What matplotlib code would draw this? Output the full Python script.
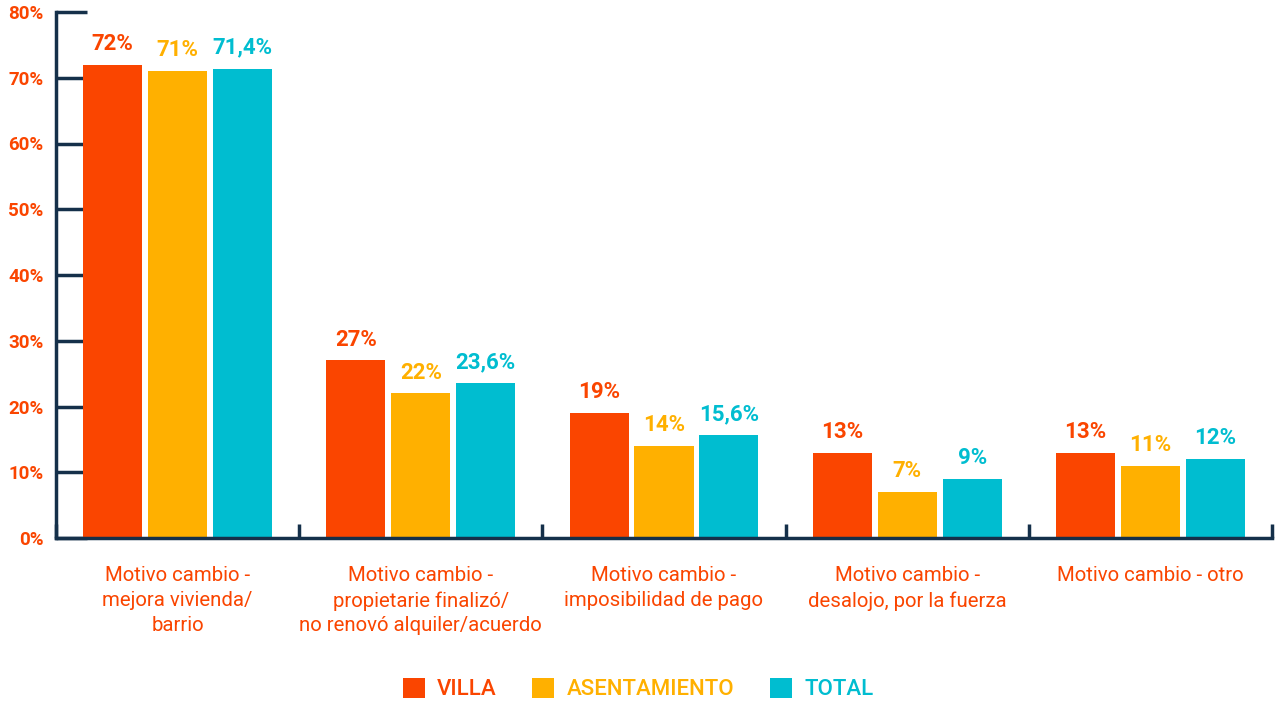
import numpy as np
import matplotlib.pyplot as plt

categories = [
    "Motivo cambio -\nmejora vivienda/\nbarrio",
    "Motivo cambio -\npropietarie finalizó/\nno renovó alquiler/acuerdo",
    "Motivo cambio -\nimposibilidad de pago",
    "Motivo cambio -\ndesalojo, por la fuerza",
    "Motivo cambio - otro",
]
villa = [72, 27, 19, 13, 13]
asentamiento = [71, 22, 14, 7, 11]
total = [71.4, 23.6, 15.6, 9, 12]
series_names = ["VILLA", "ASENTAMIENTO", "TOTAL"]
y_ticks = [0, 10, 20, 30, 40, 50, 60, 70, 80]

RED = "#fa4500"
YELLOW = "#ffb000"
TEAL = "#00bdd0"
AXIS = "#15304a"
FONT = ["Roboto", "DejaVu Sans"]


def fmt(v):
    s = ("%g" % v).replace(".", ",")
    return s + "%"


fig = plt.figure(figsize=(12.76, 7.04), dpi=100)
ax = fig.add_axes([56 / 1276, 1 - 538 / 704, 1216 / 1276, 526 / 704])

x = np.arange(len(categories))
width = 0.243
offset = 0.267
series = [villa, asentamiento, total]
colors = [RED, YELLOW, TEAL]

for i, (vals, col, name) in enumerate(zip(series, colors, series_names)):
    pos = x + (i - 1) * offset
    ax.bar(pos, vals, width=width, color=col, label=name, zorder=2)
    for px, v in zip(pos, vals):
        ax.annotate(fmt(v), (px, v), xytext=(0, 15), textcoords="offset points",
                    ha="center", va="center", color=col, fontsize=16,
                    fontweight="bold", family=FONT)

ax.set_xlim(-0.5, len(categories) - 0.5)
ax.set_ylim(0, 80)

for side in ["top", "right"]:
    ax.spines[side].set_visible(False)
for side in ["left", "bottom"]:
    ax.spines[side].set_color(AXIS)
    ax.spines[side].set_linewidth(2.5)

ax.set_yticks(y_ticks)
ax.set_yticklabels([f"{t}%" for t in y_ticks], color=RED, fontsize=13.5,
                   fontweight="bold", family=FONT)
ax.tick_params(axis="y", direction="in", length=22, width=2.5, color=AXIS, pad=9)

# group separators drawn as short inward ticks on the baseline
ax.set_xticks(np.arange(len(categories) + 1) - 0.5)
ax.set_xticklabels([])
ax.tick_params(axis="x", direction="in", length=10, width=2.5, color=AXIS)

for xi, cat in zip(x, categories):
    ax.text(xi, -4.3, cat, ha="center", va="top", color=RED, fontsize=14.7,
            family=FONT, linespacing=1.38)

leg = fig.legend(loc="center", bbox_to_anchor=(0.5, 1 - 689 / 704), ncol=3,
                 frameon=False, handlelength=1.0, handleheight=1.0,
                 columnspacing=1.6, handletextpad=0.55,
                 prop={"family": FONT, "size": 16, "weight": "medium"})
for txt, col in zip(leg.get_texts(), colors):
    txt.set_color(col)

fig.savefig("out.png", dpi=100)
